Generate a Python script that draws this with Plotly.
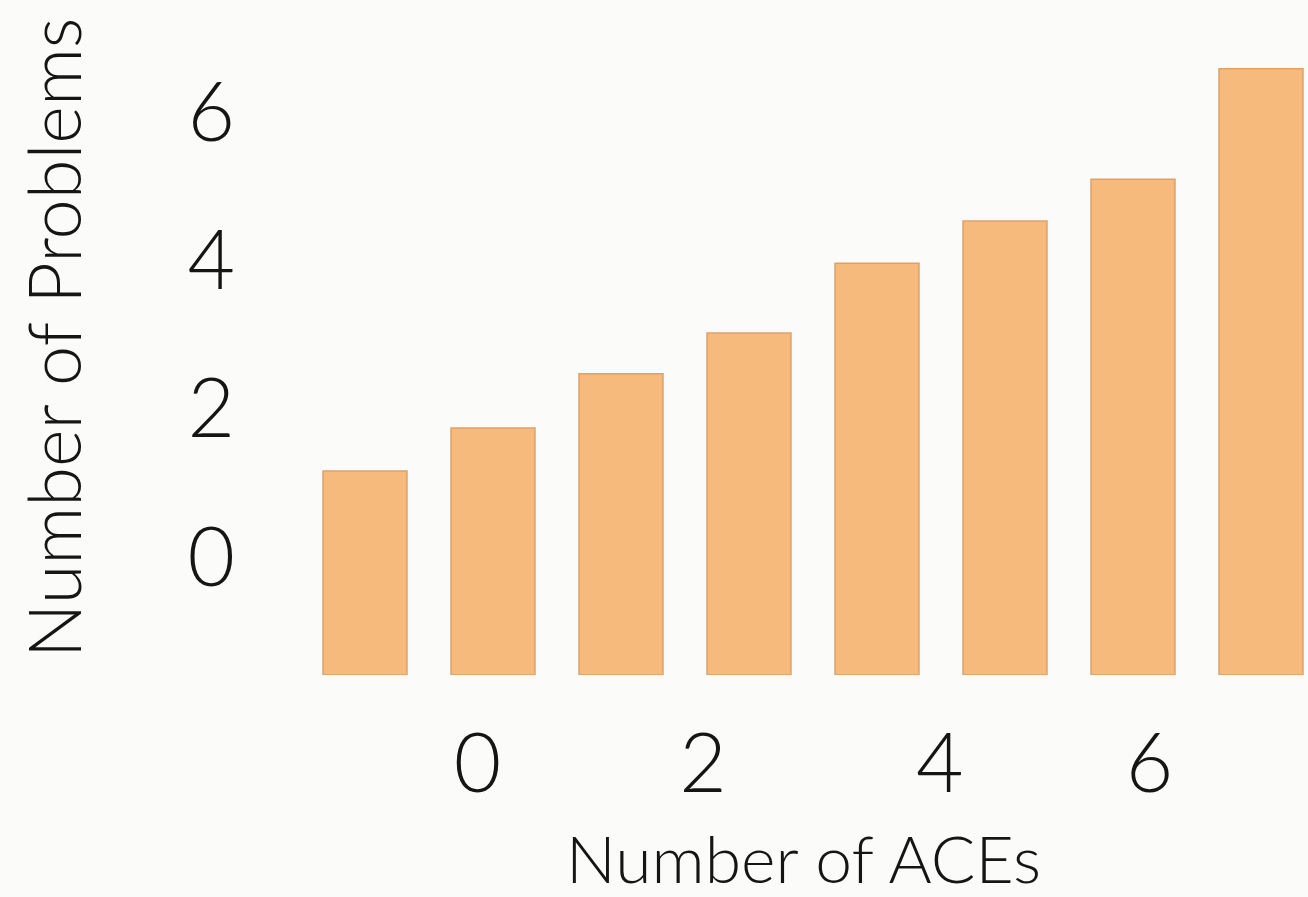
import plotly.graph_objects as go

# Data
aces = [0, 1, 2, 3, 4, 5, 6, 7]                       # bar slots (categories)
problems = [1.16, 1.74, 2.47, 3.02, 3.96, 4.53, 5.09, 6.58]  # bar top values
bar_base = -1.59                                      # where the bars start on the y scale
x_tick_positions = [0.88, 2.64, 4.49, 6.13]
x_tick_labels = ["0", "2", "4", "6"]
y_tick_values = [0, 2, 4, 6]
y_tick_labels = ["0", "2", "4", "6"]

W, H = 1308, 897
FONT = "Lato"
BG = "#FBFBF9"
INK = "#151515"

fig = go.Figure(
    go.Bar(
        x=aces,
        y=[v - bar_base for v in problems],
        base=bar_base,
        width=0.656,
        marker=dict(color="#F6BB7C", line=dict(color="#DFA166", width=1.5)),
        hoverinfo="skip",
    )
)

left_px = 240
fig.update_layout(
    width=W,
    height=H,
    margin=dict(l=0, r=0, t=0, b=0),
    paper_bgcolor=BG,
    plot_bgcolor=BG,
    showlegend=False,
    font=dict(family=FONT, color=INK),
    xaxis=dict(
        domain=[left_px / W, 1],
        range=[(left_px - 365) / 128, (W - 365) / 128],
        tickvals=x_tick_positions,
        ticktext=x_tick_labels,
        tickfont=dict(size=82, family=FONT, color=INK, weight=300),
        showgrid=False,
        zeroline=False,
        showline=False,
        ticks="",
        ticklabelstandoff=34,
    ),
    yaxis=dict(
        domain=[(H - 675) / H, 1],
        range=[bar_base, bar_base + 675 / 74.2],
        tickvals=y_tick_values,
        ticktext=y_tick_labels,
        tickfont=dict(size=82, family=FONT, color=INK, weight=300),
        showgrid=False,
        zeroline=False,
        showline=False,
        ticks="",
        ticklabelstandoff=4,
    ),
    annotations=[
        dict(
            text="Number of ACEs",
            xref="paper", yref="paper",
            x=803 / W, y=1 - 857 / H,
            xanchor="center", yanchor="middle",
            showarrow=False,
            font=dict(size=66, family=FONT, color=INK, weight=300),
        ),
        dict(
            text="Number of Problems",
            xref="paper", yref="paper",
            x=53 / W, y=1 - 338 / H,
            xanchor="center", yanchor="middle",
            textangle=-90,
            showarrow=False,
            font=dict(size=72, family=FONT, color=INK, weight=300),
        ),
    ],
)

fig.write_html("out.html")
